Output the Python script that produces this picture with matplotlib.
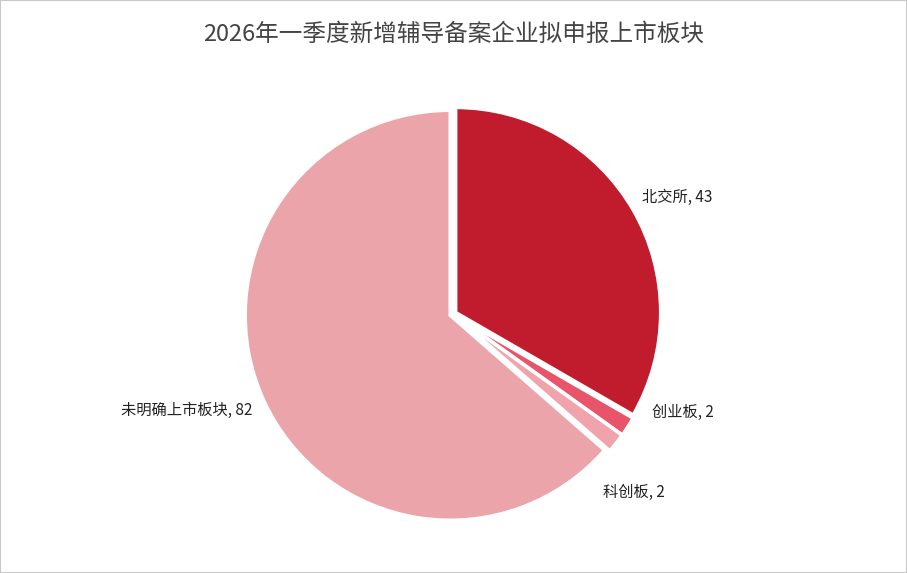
import matplotlib
matplotlib.use("Agg")
import matplotlib.pyplot as plt
from matplotlib.patches import Rectangle

plt.rcParams['font.family'] = ['Noto Sans CJK SC', 'DejaVu Sans']

categories = ["北交所", "创业板", "科创板", "未明确上市板块"]
values = [43, 2, 2, 82]
colors = ["#C01C2E", "#E8546A", "#F0A3AB", "#EBA5AA"]
title = "2026年一季度新增辅导备案企业拟申报上市板块"

# label anchor positions (in pie radius units) and alignment
label_pos = [(0.92, 0.57, "left"), (0.97, -0.48, "left"), (0.73, -0.87, "left"), (-0.98, -0.47, "right")]

fig = plt.figure(figsize=(9.07, 5.73), dpi=100)
fig.patches.append(Rectangle((0, 0), 1, 1, transform=fig.transFigure, fill=False,
                             edgecolor="#C8C8C8", linewidth=1.5))
fig.text(0.5, 0.94, title, ha="center", va="center", fontsize=17, color="#444444")

ax = fig.add_axes([(453 - 205) / 907, (573 - 314 - 205) / 573, 410 / 907, 410 / 573])
labels = [f"{c}, {v}" for c, v in zip(categories, values)]
wedges, texts = ax.pie(values, labels=labels, colors=colors, startangle=90, counterclock=False,
                       explode=[0.015] * 4,
                       wedgeprops=dict(edgecolor="white", linewidth=2.5),
                       textprops=dict(fontsize=11, color="#222222"))
for t, (x, y, ha) in zip(texts, label_pos):
    t.set_position((x, y))
    t.set_ha(ha)
    t.set_va("center")
ax.set_xlim(-1.0, 1.0)
ax.set_ylim(-1.0, 1.0)
ax.set_aspect("equal")
fig.savefig("out.png", dpi=100)
